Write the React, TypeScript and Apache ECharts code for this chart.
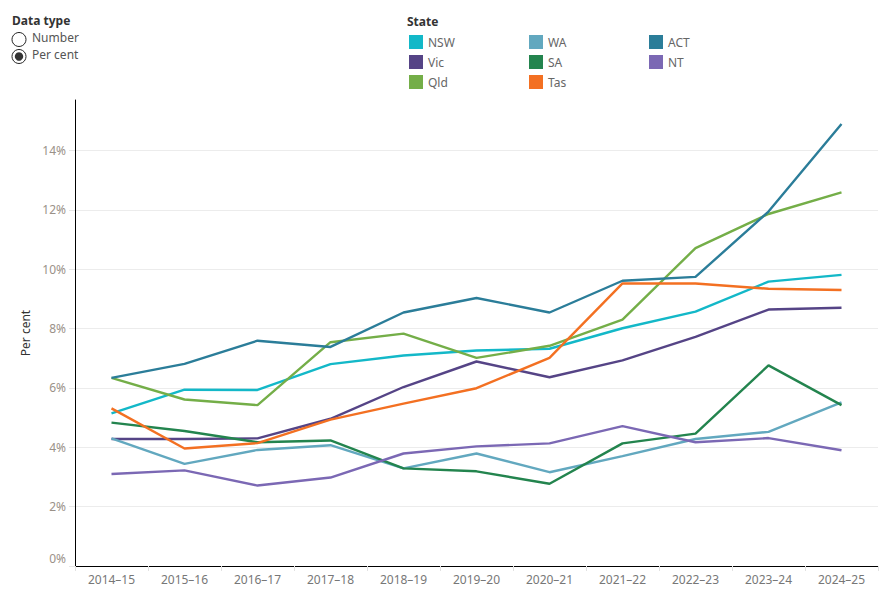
import React, { useEffect, useRef } from "react";
import * as echarts from "echarts";

const years = [
  "2014–15", "2015–16", "2016–17", "2017–18", "2018–19", "2019–20",
  "2020–21", "2021–22", "2022–23", "2023–24", "2024–25",
];

const nsw = [5.14, 5.94, 5.93, 6.8, 7.09, 7.26, 7.32, 8.01, 8.57, 9.58, 9.81];
const vic = [4.28, 4.28, 4.3, 4.96, 6.03, 6.89, 6.36, 6.93, 7.72, 8.64, 8.7];
const qld = [6.34, 5.61, 5.42, 7.54, 7.83, 7.01, 7.42, 8.3, 10.71, 11.86, 12.59];
const wa = [4.3, 3.44, 3.91, 4.07, 3.29, 3.79, 3.16, 3.7, 4.28, 4.52, 5.51];
const sa = [4.83, 4.55, 4.17, 4.23, 3.29, 3.19, 2.77, 4.13, 4.46, 6.76, 5.42];
const tas = [5.31, 3.96, 4.14, 4.93, 5.47, 5.99, 7.01, 9.52, 9.52, 9.34, 9.3];
const act = [6.34, 6.81, 7.59, 7.38, 8.54, 9.03, 8.54, 9.61, 9.74, 11.94, 14.89];
const nt = [3.1, 3.22, 2.71, 2.98, 3.79, 4.03, 4.13, 4.71, 4.17, 4.31, 3.9];

const states = [
  { name: "NSW", data: nsw, color: "#13b8c8" },
  { name: "Vic", data: vic, color: "#554486" },
  { name: "Qld", data: qld, color: "#74ae48" },
  { name: "WA", data: wa, color: "#62a8bf" },
  { name: "SA", data: sa, color: "#23844e" },
  { name: "Tas", data: tas, color: "#f37022" },
  { name: "ACT", data: act, color: "#2b7d99" },
  { name: "NT", data: nt, color: "#7b68b4" },
];

const legendColumns = [
  ["NSW", "Vic", "Qld"],
  ["WA", "SA", "Tas"],
  ["ACT", "NT"],
];

const yTicks = [0, 2, 4, 6, 8, 10, 12, 14];

const FONT = "'Noto Sans', 'Liberation Sans', sans-serif";

export default function App() {
  const ref = useRef<HTMLDivElement>(null);

  useEffect(() => {
    if (!ref.current) return;
    const chart = echarts.init(ref.current, undefined, { renderer: "svg" });

    const legends = legendColumns.map((col, i) => ({
      data: col,
      orient: "vertical",
      left: 409 + i * 120,
      top: 35,
      padding: 0,
      itemWidth: 14,
      itemHeight: 14,
      itemGap: 6,
      icon: "rect",
      selectedMode: false,
      textStyle: { fontFamily: FONT, fontSize: 12, color: "#666666" },
    }));

    chart.setOption({
      animation: false,
      textStyle: { fontFamily: FONT },
      grid: { left: 75, right: 12, top: 100, bottom: 34, containLabel: false },
      legend: legends,
      graphic: [
        {
          type: "text",
          left: 12,
          top: 14,
          style: { text: "Data type", fontFamily: FONT, fontSize: 12, fontWeight: "bold", fill: "#333333" },
        },
        {
          type: "circle",
          shape: { cx: 19, cy: 39.5, r: 7 },
          style: { fill: "#ffffff", stroke: "#222222", lineWidth: 1 },
        },
        {
          type: "text",
          left: 32,
          top: 31.5,
          style: { text: "Number", fontFamily: FONT, fontSize: 12, fill: "#555555" },
        },
        {
          type: "circle",
          shape: { cx: 19, cy: 56.5, r: 7 },
          style: { fill: "#ffffff", stroke: "#222222", lineWidth: 1 },
        },
        {
          type: "circle",
          shape: { cx: 19, cy: 56.5, r: 4.2 },
          style: { fill: "#333333" },
        },
        {
          type: "text",
          left: 32,
          top: 48.5,
          style: { text: "Per cent", fontFamily: FONT, fontSize: 12, fill: "#555555" },
        },
        {
          type: "text",
          left: 407,
          top: 15,
          style: { text: "State", fontFamily: FONT, fontSize: 12, fontWeight: "bold", fill: "#333333" },
        },
      ],
      xAxis: {
        type: "category",
        data: years,
        boundaryGap: true,
        axisLine: { show: true, lineStyle: { color: "#000000", width: 1 } },
        axisTick: { show: true, interval: 0, length: 5, lineStyle: { color: "#e2e2e2" } },
        axisLabel: { fontFamily: FONT, fontSize: 12, color: "#777777", margin: 7, interval: 0 },
        splitLine: { show: false },
      },
      yAxis: {
        type: "value",
        min: 0,
        max: 15.7,
        interval: 2,
        name: "Per cent",
        nameLocation: "middle",
        nameGap: 42,
        nameTextStyle: { fontFamily: FONT, fontSize: 12, color: "#333333" },
        axisLine: { show: true, lineStyle: { color: "#000000", width: 1 } },
        axisTick: { show: true, length: 6, lineStyle: { color: "#e6e6e6" } },
        axisLabel: {
          fontFamily: FONT,
          fontSize: 12,
          color: "#9a9188",
          margin: 9,
          lineHeight: 16,
          showMaxLabel: false,
          formatter: (v: number) => {
            if (!yTicks.includes(v)) return "";
            return v === 0 ? "0%\n" : v + "%";
          },
        },
        splitLine: {
          show: true,
          showMinLine: false,
          showMaxLine: false,
          lineStyle: { color: "#ececec", width: 1 },
        },
      },
      series: states.map((s) => ({
        name: s.name,
        type: "line",
        data: s.data,
        symbol: "none",
        color: s.color,
        lineStyle: { width: 2.4, color: s.color },
        itemStyle: { color: s.color },
      })),
    });

    return () => chart.dispose();
  }, []);

  return (
    <div
      ref={ref}
      style={{ position: "absolute", left: 0, top: 0, width: 890, height: 600 }}
    />
  );
}
